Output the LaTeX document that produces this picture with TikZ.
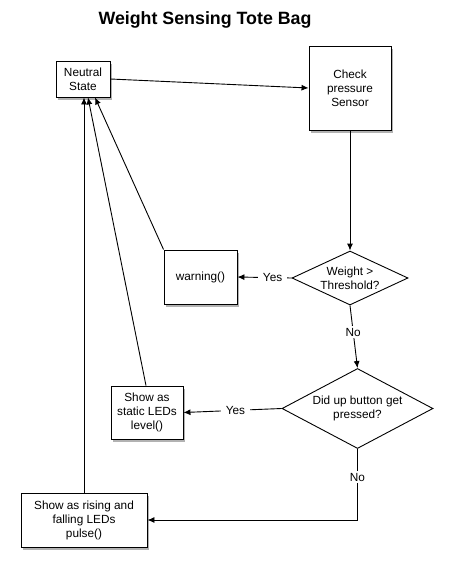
\documentclass[tikz,border=0pt]{standalone}
\usepackage{fontspec}
\setmainfont{Liberation Sans}
\usetikzlibrary{arrows.meta,shadows,shapes.geometric}
\begin{document}
\begin{tikzpicture}[x=1pt,y=-1pt,
  every node/.style={font=\fontsize{11.8}{14}\selectfont},
  box/.style={draw,line width=0.9pt,fill=white,align=center,inner sep=0pt,
    drop shadow={shadow xshift=2pt,shadow yshift=-3pt,opacity=0.5,fill=black!60}},
  dia/.style={draw,line width=0.9pt,fill=white,diamond,inner sep=0pt},
  lbl/.style={fill=white,inner xsep=5pt,inner ysep=2pt},
  conn/.style={line width=0.9pt,-{Latex[length=7pt,width=6pt]}},
  plain/.style={line width=0.9pt}]
\useasboundingbox (0,0) rectangle (452,571);
\node[font=\bfseries\fontsize{17.8}{20}\selectfont] (title) at (205,20) {Weight Sensing Tote Bag};
\node[box,minimum width=54pt,minimum height=36pt] (neutral) at (83,79) {Neutral\\State};
\node[box,minimum width=82pt,minimum height=84pt] (check) at (350,88) {Check\\pressure\\Sensor};
\node[dia,minimum width=116pt,minimum height=54pt] (d1) at (350,278) {};
\node[align=center] (d1t) at (350,278) {Weight >\\Threshold?};
\node[box,minimum width=73pt,minimum height=54pt] (warn) at (200.5,277) {warning()};
\node[dia,minimum width=151pt,minimum height=80pt] (d2) at (357.5,408.5) {};
\node[align=center] (d2t) at (357.5,408.5) {Did up button get\\pressed?};
\node[box,minimum width=72pt,minimum height=53pt] (static) at (147,412.5) {Show as\\static LEDs\\level()};
\node[box,minimum width=126pt,minimum height=54pt] (pulse) at (84,520) {Show as rising and\\falling LEDs\\pulse()};
\draw[conn] (neutral.east) -- (check.west);
\draw[conn] (check.south) -- (d1.north);
\draw[conn] (d1.west) -- node[lbl,pos=0.35] (y1) {Yes} (warn.east);
\draw[conn] (d1.south) -- node[lbl,pos=0.43] (n1) {No} (d2.north);
\draw[conn] (d2.west) -- node[lbl,pos=0.47] (y2) {Yes} (static.east);
\coordinate (corner) at (d2.south |- pulse.east);
\draw[plain] (d2.south) -- node[lbl,pos=0.4] (n2) {No} (corner);
\draw[conn] (corner) -- (pulse.east);
\draw[conn] (pulse.north) -- (pulse.north |- neutral.south);
\draw[conn] ([xshift=-1pt]static.north) -- ([xshift=5pt]neutral.south);
\draw[conn] (warn.north west) -- ([xshift=12pt]neutral.south);
\end{tikzpicture}
\end{document}
